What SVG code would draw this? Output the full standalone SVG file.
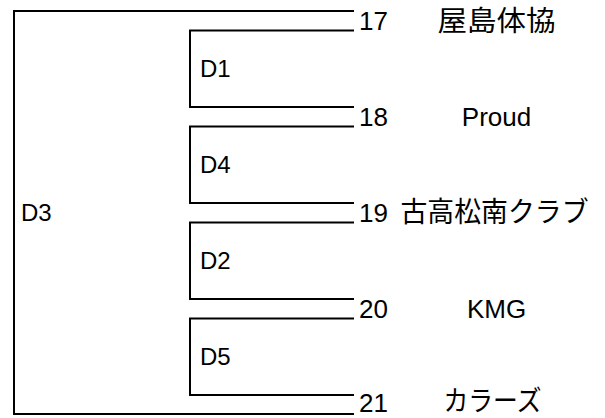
<svg xmlns="http://www.w3.org/2000/svg" width="605" height="418" viewBox="0 0 605 418">
<style>
.ln{fill:none;stroke:#000;stroke-width:2}
.d{font-family:"Liberation Sans","Noto Sans CJK JP",sans-serif;font-size:24px;fill:#000}
.n{font-family:"Liberation Sans","Noto Sans CJK JP",sans-serif;font-size:26px;fill:#000}
.t{font-family:"Liberation Sans","Noto Sans CJK JP",sans-serif;font-size:26px;fill:#000;text-anchor:middle}
.j{font-family:"Noto Sans CJK JP","Liberation Sans",sans-serif;font-size:28px;fill:#000;text-anchor:middle}
</style>
<rect width="605" height="418" fill="#fff"/>
<g id="connectors">
<path class="ln" d="M354,11 H14 V414 H354"/>
<path class="ln" d="M354,30.5 H190 V107 H354"/>
<path class="ln" d="M354,126.5 H190 V203 H354"/>
<path class="ln" d="M354,222.5 H190 V299 H354"/>
<path class="ln" d="M354,318.5 H190 V395 H354"/>
</g>
<g id="D3"><text class="d" x="21" y="221">D3</text></g>
<g id="D1"><text class="d" x="200" y="77">D1</text></g>
<g id="D4"><text class="d" x="200" y="173">D4</text></g>
<g id="D2"><text class="d" x="200" y="269">D2</text></g>
<g id="D5"><text class="d" x="200" y="365">D5</text></g>
<g id="team17"><text class="n" x="359" y="30">17</text><text class="j" x="496.5" y="31" textLength="118" lengthAdjust="spacingAndGlyphs">屋島体協</text></g>
<g id="team18"><text class="n" x="359" y="126">18</text><text class="t" x="496.5" y="126">Proud</text></g>
<g id="team19"><text class="n" x="359" y="222">19</text><text class="j" x="494.5" y="222" textLength="188" lengthAdjust="spacingAndGlyphs">古高松南クラブ</text></g>
<g id="team20"><text class="n" x="359" y="318">20</text><text class="t" x="496.5" y="318">KMG</text></g>
<g id="team21"><text class="n" x="359" y="412">21</text><text class="j" x="492.5" y="411" textLength="98" lengthAdjust="spacingAndGlyphs">カラーズ</text></g>
</svg>
